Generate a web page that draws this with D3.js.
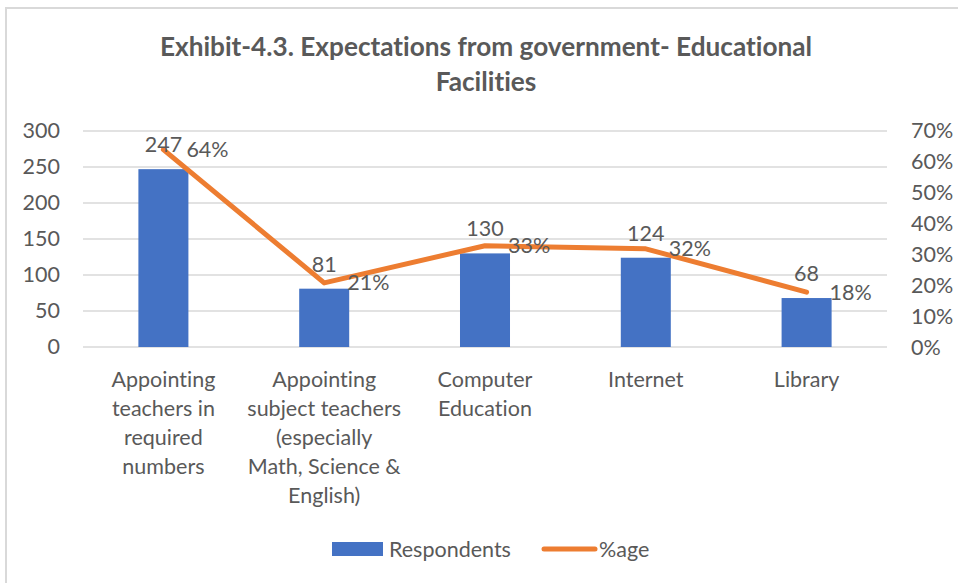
<!DOCTYPE html>
<html>
<head>
<meta charset="utf-8">
<script src="https://cdn.jsdelivr.net/npm/d3@7"></script>
<style>
  html, body { margin: 0; padding: 0; background: #fff; }
  svg { display: block; }
  text { font-family: Lato, "Open Sans", sans-serif; fill: #595959; font-variant-ligatures: none; }
</style>
</head>
<body>
<svg id="chart" width="958" height="583"></svg>
<script>
// ---- data ----
const categories = [
  "Appointing teachers in required numbers",
  "Appointing subject teachers (especially Math, Science & English)",
  "Computer Education",
  "Internet",
  "Library"
];
const categoryLines = [
  ["Appointing", "teachers in", "required", "numbers"],
  ["Appointing", "subject teachers", "(especially", "Math, Science &", "English)"],
  ["Computer", "Education"],
  ["Internet"],
  ["Library"]
];
const respondents = [247, 81, 130, 124, 68];
const percentage = [0.64, 0.21, 0.33, 0.32, 0.18];
const leftTicks = [0, 50, 100, 150, 200, 250, 300];
const rightTicks = [0, 0.1, 0.2, 0.3, 0.4, 0.5, 0.6, 0.7];
const titleLines = ["Exhibit-4.3. Expectations from government- Educational", "Facilities"];
const seriesNames = ["Respondents", "%age"];

// ---- drawing ----
const svg = d3.select("#chart");
const W = 958, H = 583;
const plot = { left: 83, right: 887, top: 131, bottom: 347 };
const blue = "#4472C4", orange = "#ED7D31", grid = "#d9d9d9";
const fs = "21.5px";

svg.append("rect").attr("x", 0).attr("y", 0).attr("width", W).attr("height", H).attr("fill", "#fff");
svg.append("rect").attr("x", 6).attr("y", 8).attr("width", 1000).attr("height", 700)
  .attr("fill", "none").attr("stroke", grid).attr("stroke-width", 2);

// title
svg.append("g").selectAll("text").data(titleLines).join("text")
  .attr("x", 486).attr("y", (d, i) => 56 + i * 35)
  .attr("text-anchor", "middle")
  .style("font-weight", "bold").style("font-size", "26.2px")
  .text(d => d);

const x = d3.scaleBand().domain(categories).range([plot.left, plot.right])
  .paddingInner(0.689).paddingOuter(0.689 / 2);
const y = d3.scaleLinear().domain([0, 300]).range([plot.bottom, plot.top]);
const y2 = d3.scaleLinear().domain([0, 0.7]).range([348, 131]);

// gridlines
svg.append("g").selectAll("line").data(leftTicks).join("line")
  .attr("x1", plot.left).attr("x2", plot.right)
  .attr("y1", d => y(d)).attr("y2", d => y(d))
  .attr("stroke", grid).attr("stroke-width", 1.3);

// left axis
const gl = svg.append("g").attr("transform", `translate(${plot.left},0)`)
  .call(d3.axisLeft(y).tickValues(leftTicks).tickSize(0).tickPadding(23));
gl.select(".domain").remove();
gl.selectAll("text").style("font-size", fs).style("font-family", "Lato, sans-serif").attr("fill", "#595959");

// right axis
const gr = svg.append("g").attr("transform", `translate(${plot.right},0)`)
  .call(d3.axisRight(y2).tickValues(rightTicks).tickSize(0).tickPadding(24).tickFormat(d3.format(".0%")));
gr.select(".domain").remove();
gr.selectAll("text").style("font-size", fs).style("font-family", "Lato, sans-serif").attr("fill", "#595959");

// bars
svg.append("g").selectAll("rect").data(respondents).join("rect")
  .attr("x", (d, i) => x(categories[i]))
  .attr("width", x.bandwidth())
  .attr("y", d => y(d))
  .attr("height", d => y(0) - y(d))
  .attr("fill", blue);

// line
const cx = i => x(categories[i]) + x.bandwidth() / 2;
const line = d3.line().x((d, i) => cx(i)).y(d => y2(d));
svg.append("path").datum(percentage).attr("d", line)
  .attr("fill", "none").attr("stroke", orange).attr("stroke-width", 5)
  .attr("stroke-linejoin", "round").attr("stroke-linecap", "round");

// bar labels
svg.append("g").selectAll("text").data(respondents).join("text")
  .attr("x", (d, i) => cx(i)).attr("y", d => y(d) - 17)
  .attr("text-anchor", "middle").style("font-size", fs)
  .text(d => d);

// percent labels
svg.append("g").selectAll("text").data(percentage).join("text")
  .attr("x", (d, i) => cx(i) + 23).attr("y", d => y2(d))
  .attr("dy", "0.35em").style("font-size", fs)
  .text(d => d3.format(".0%")(d));

// category labels
const gc = svg.append("g").selectAll("g").data(categoryLines).join("g");
gc.selectAll("text").data((d, i) => d.map(t => ({ t, i }))).join("text")
  .attr("x", d => cx(d.i)).attr("y", (d, j) => 387 + j * 29)
  .attr("text-anchor", "middle").style("font-size", fs)
  .text(d => d.t);

// legend
const lg = svg.append("g");
lg.append("rect").attr("x", 332).attr("y", 542).attr("width", 51).attr("height", 14).attr("fill", blue);
lg.append("text").attr("x", 389).attr("y", 549).attr("dy", "0.35em").style("font-size", fs).text(seriesNames[0]);
lg.append("line").attr("x1", 544).attr("x2", 595).attr("y1", 549).attr("y2", 549)
  .attr("stroke", orange).attr("stroke-width", 5).attr("stroke-linecap", "round");
lg.append("text").attr("x", 599).attr("y", 549).attr("dy", "0.35em").style("font-size", fs).text(seriesNames[1]);
</script>
</body>
</html>
